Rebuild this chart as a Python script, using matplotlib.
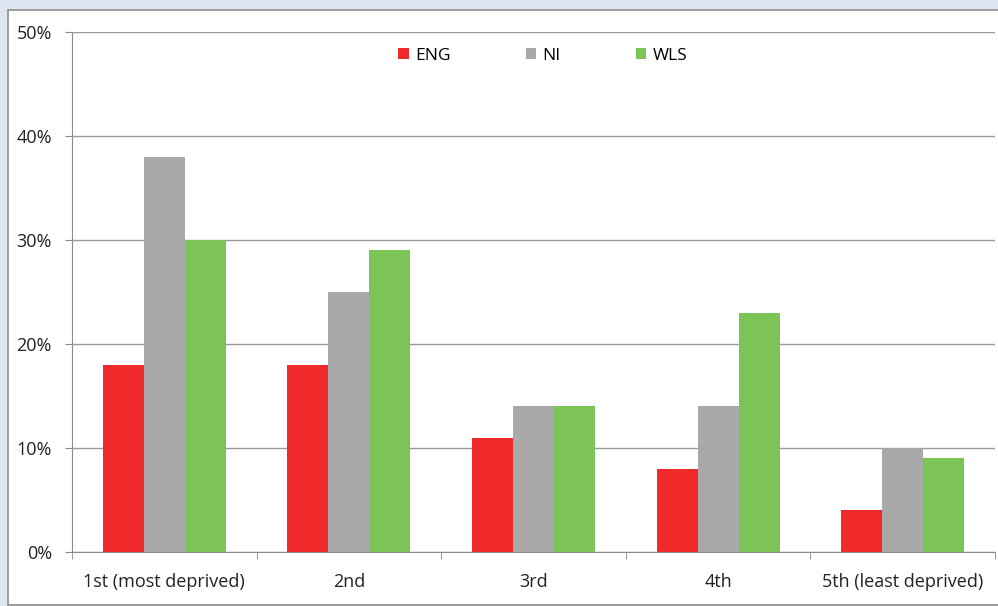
import matplotlib
matplotlib.use("Agg")
import matplotlib.pyplot as plt
import numpy as np
from matplotlib.patches import Rectangle
from matplotlib.ticker import FuncFormatter, FixedLocator

categories = ["1st (most deprived)", "2nd", "3rd", "4th", "5th (least deprived)"]
series_names = ["ENG", "NI", "WLS"]
eng = [18, 18, 11, 8, 4]
ni = [38, 25, 14, 14, 10]
wls = [30, 29, 14, 23, 9]
colors = ["#f02a2a", "#a9a9a9", "#7cc456"]

plt.rcParams["font.family"] = ["Open Sans", "DejaVu Sans"]

fig = plt.figure(figsize=(9.98, 6.06), dpi=100)
fig.patch.set_facecolor("#dfe6f2")
# white chart panel, behind the axes
fig.patches.append(Rectangle((8 / 998, 1 / 606), 1.0, 1 - 11 / 606, transform=fig.transFigure,
                             facecolor="white", edgecolor="#8c8c8c", linewidth=1.2, zorder=-1))

ax = fig.add_axes([72 / 998, 1 - 552 / 606, 923 / 998, 520 / 606])
ax.set_facecolor("white")

x = np.arange(len(categories))
w = 0.222
for i, (vals, name) in enumerate(zip([eng, ni, wls], series_names)):
    ax.bar(x + (i - 1) * w, vals, width=w, color=colors[i], label=name, zorder=3)

ax.set_xlim(-0.5, len(categories) - 0.5)
ax.set_ylim(0, 50)
ax.set_yticks(np.arange(0, 51, 10))
ax.yaxis.set_major_formatter(FuncFormatter(lambda v, p: f"{v:.0f}%"))
ax.grid(axis="y", color="#9a9a9a", linewidth=1.0, zorder=1)

ax.set_xticks(x)
ax.set_xticklabels(categories)
ax.xaxis.set_minor_locator(FixedLocator(np.arange(-0.5, len(categories), 1.0)))
ax.tick_params(axis="x", which="major", length=0, pad=15, labelsize=13, colors="#222222")
ax.tick_params(axis="x", which="minor", length=5, color="#8c8c8c", direction="out")
ax.tick_params(axis="y", length=5, color="#8c8c8c", labelsize=13, labelcolor="#222222", pad=9.5)

for s in ["top", "right"]:
    ax.spines[s].set_visible(False)
ax.spines["left"].set_color("#8c8c8c")
ax.spines["bottom"].set_color("#8c8c8c")

ax.legend(loc="upper center", bbox_to_anchor=(0.51, 1.0), ncol=3, frameon=False,
          handlelength=0.6, handleheight=0.6, columnspacing=4.35, handletextpad=0.35,
          fontsize=12.5)

fig.savefig("out.png", dpi=100, facecolor=fig.get_facecolor())
